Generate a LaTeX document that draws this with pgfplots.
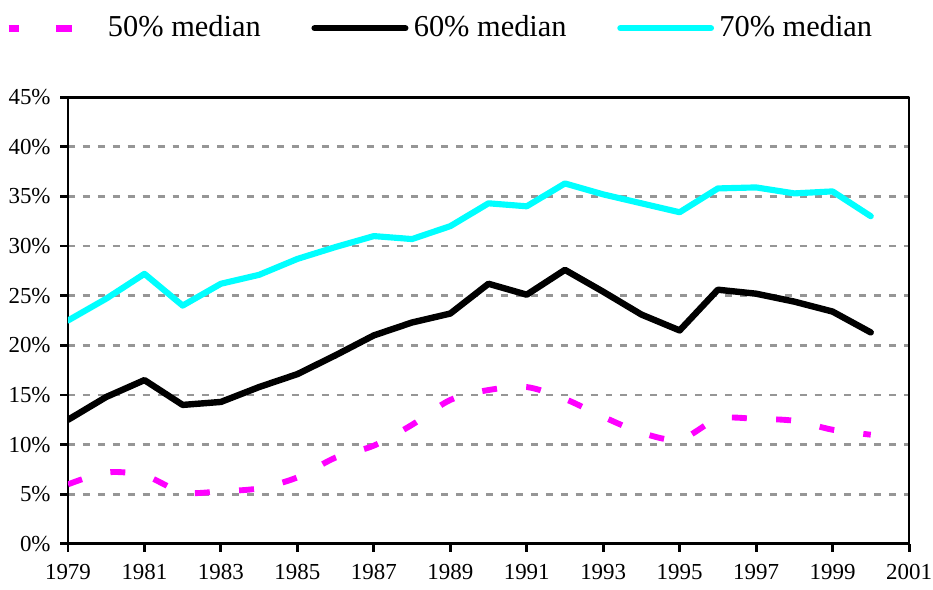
\documentclass[border=0pt]{standalone}
\usepackage{pgfplots}
\pgfplotsset{compat=1.18}
\usepackage{fontspec}
\setmainfont{Liberation Serif}
\definecolor{mag}{RGB}{255,0,255}
\definecolor{cya}{RGB}{0,255,255}
\definecolor{gridgray}{RGB}{150,150,150}
\begin{document}
\begin{tikzpicture}
\begin{axis}[
  name=ax,
  scale only axis,
  width=315.4pt, height=167.6pt,
  xmin=1979, xmax=2001, ymin=0, ymax=45,
  xtick={1979,1981,...,2001},
  ytick={0,5,...,45},
  yticklabel={\pgfmathprintnumber{\tick}\%},
  /pgf/number format/1000 sep={},
  /pgf/number format/assume math mode=true,
  tick label style={font=\fontsize{8.6}{10}\selectfont},
  xticklabel style={yshift=-1pt},
  xtick pos=left, ytick pos=left,
  tick align=outside,
  major tick length=3pt,
  axis line style={line width=1.1pt},
  every tick/.style={line width=1.1pt, black},
  ymajorgrids,
  major grid style={gridgray, line width=1pt, dash pattern=on 2.6pt off 3pt},
  legend columns=3,
  legend style={draw=none, fill=none, at={(-0.085,1.154)}, anchor=west,
    font=\fontsize{11.4}{13}\selectfont,
    /tikz/every even column/.append style={column sep=17pt}},
  legend cell align=left,
  legend image code/.code={\draw[#1] (0pt,0pt) -- (34pt,0pt);},
  line join=round,
]
\addplot[mag, line width=2.2pt, dash pattern=on 5.6pt off 11pt, smooth, tension=0.5,
  legend image code/.code={\draw[mag, line width=2.6pt, dash pattern=on 3.75pt off 14pt on 6pt off 20pt] (0pt,0pt) -- (34pt,0pt);}] coordinates {
(1979,6.0) (1980,7.2) (1981,6.9) (1982,5.2) (1983,5.3) (1984,5.6) (1985,6.7)
(1986,8.7) (1987,9.9) (1988,12.0) (1989,14.5) (1990,15.5) (1991,15.8) (1992,14.6)
(1993,12.8) (1994,11.2) (1995,10.5) (1996,12.6) (1997,12.6) (1998,12.4) (1999,11.5) (2000,11.0)};
\addlegendentry{50\% median}
\addplot[black, line width=2.4pt, line cap=round] coordinates {
(1979,12.5) (1980,14.8) (1981,16.5) (1982,14.0) (1983,14.3) (1984,15.8) (1985,17.1)
(1986,19.0) (1987,21.0) (1988,22.3) (1989,23.2) (1990,26.2) (1991,25.1) (1992,27.6)
(1993,25.4) (1994,23.1) (1995,21.5) (1996,25.6) (1997,25.2) (1998,24.4) (1999,23.4) (2000,21.3)};
\addlegendentry{60\% median}
\addplot[cya, line width=2.3pt, line cap=round] coordinates {
(1979,22.5) (1980,24.7) (1981,27.2) (1982,24.0) (1983,26.2) (1984,27.1) (1985,28.7)
(1986,29.9) (1987,31.0) (1988,30.7) (1989,32.0) (1990,34.3) (1991,34.0) (1992,36.3)
(1993,35.2) (1994,34.3) (1995,33.4) (1996,35.8) (1997,35.9) (1998,35.3) (1999,35.5) (2000,33.0)};
\addlegendentry{70\% median}
\end{axis}
\pgfresetboundingbox
\path ([xshift=-25.5pt,yshift=-17.25pt]ax.south west) rectangle ([xshift=9pt,yshift=36.4pt]ax.north east);
\end{tikzpicture}
\end{document}
